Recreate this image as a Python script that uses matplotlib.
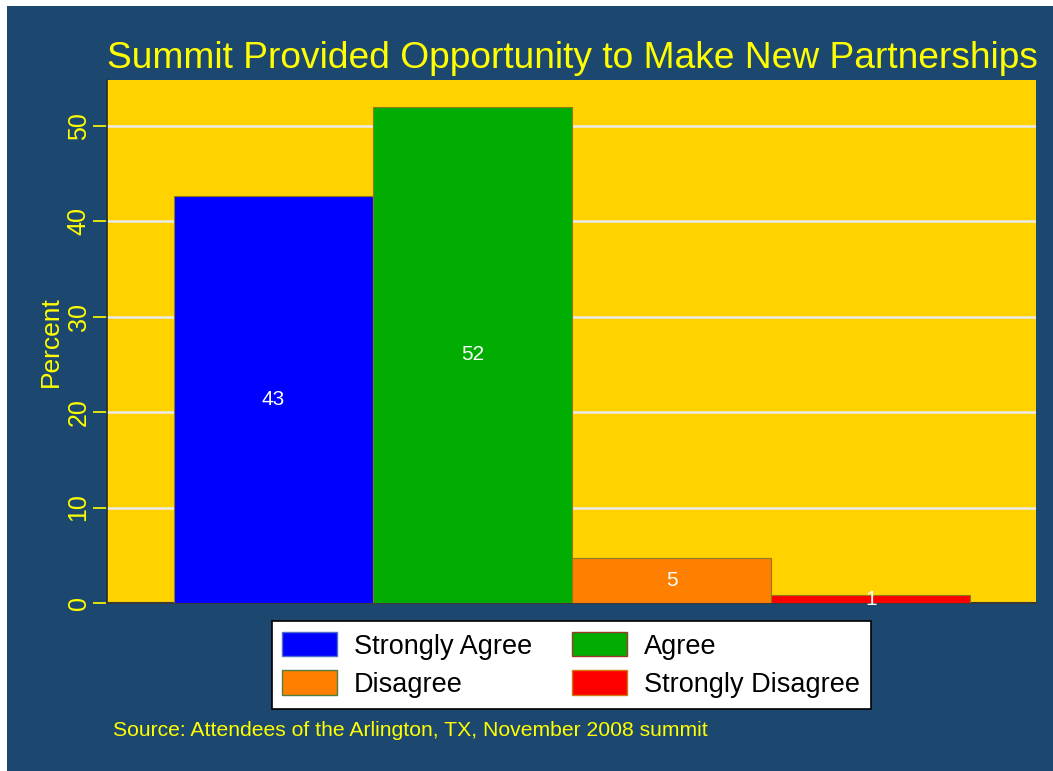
import matplotlib
matplotlib.use("Agg")
import matplotlib.pyplot as plt
from matplotlib.patches import Rectangle, Patch

plt.rcParams["font.family"] = ["Liberation Sans", "DejaVu Sans"]

# Survey responses (percent of attendees)
categories = ["Strongly Agree", "Agree", "Disagree", "Strongly Disagree"]
percents = [42.6, 52.0, 4.7, 0.8]
bar_colors = ["#0000ff", "#00ad00", "#ff8000", "#ff0000"]
legend_edges = ["#4f6fd0", "#9a3a2a", "#4f7f3f", "#d07a10"]
y_ticks = [0, 10, 20, 30, 40, 50]

title = "Summit Provided Opportunity to Make New Partnerships"
source_note = "Source: Attendees of the Arlington, TX, November 2008 summit"

W, H = 1053, 771
navy = "#1c4870"
gold = "#ffd200"
yellow = "#ffff00"

fig = plt.figure(figsize=(W / 100, H / 100), dpi=100, facecolor="white")
# navy panel (thin white margin on the top and left)
fig.patches.append(Rectangle((7 / W, 0), 1 - 7 / W, (H - 6) / H,
                             transform=fig.transFigure, facecolor=navy,
                             edgecolor="none", zorder=-5))

ax = fig.add_axes([107 / W, (H - 603) / H, (1036 - 107) / W, (603 - 80) / H])
ax.set_zorder(2)
ax.set_facecolor(gold)

x = [1, 2, 3, 4]
bars = ax.bar(x, percents, width=1.0, color=bar_colors,
              edgecolor="#8f7a1a", linewidth=0.8, zorder=3)
for xi, v in zip(x, percents):
    ax.text(xi, v / 2, f"{v:.0f}", color="white", ha="center", va="center",
            fontsize=15, zorder=4)

ax.set_xlim(0.163, 4.83)
ax.set_ylim(0, 54.8)
ax.set_xticks([])
ax.set_yticks(y_ticks)
ax.set_yticklabels([str(t) for t in y_ticks], rotation=90, va="center",
                   color=yellow, fontsize=18)
ax.tick_params(axis="y", colors=yellow, length=10, width=1.2, pad=1.8,
               labelcolor=yellow)
for t in y_ticks[1:]:
    ax.axhline(t, color="#ececec", linewidth=1.8, zorder=1)

for side in ["top", "right"]:
    ax.spines[side].set_visible(False)
ax.spines["left"].set_color("#2a2a2a")
ax.spines["left"].set_linewidth(1.2)
ax.spines["bottom"].set_color("#3a3a3a")
ax.spines["bottom"].set_linewidth(1.5)

ax.set_ylabel("Percent", color=yellow, fontsize=19, labelpad=3)

fig.text(572 / W, 1 - 58 / H, title, color=yellow, fontsize=26.7,
         ha="center", va="center")
fig.text(113 / W, 1 - 731 / H, source_note, color=yellow, fontsize=15.2,
         ha="left", va="center")

# legend laid out row-wise: Strongly Agree, Agree / Disagree, Strongly Disagree
order = [0, 2, 1, 3]
handles = [Patch(facecolor=bar_colors[i], edgecolor=legend_edges[i],
                 linewidth=1.0, label=categories[i]) for i in order]
leg = fig.legend(handles=handles, ncol=2, loc="center",
                 bbox_to_anchor=(571 / W, 1 - 665 / H), fontsize=19.5,
                 frameon=True, fancybox=False, edgecolor="black",
                 facecolor="white", framealpha=1, handlelength=2.0,
                 handleheight=1.0, handletextpad=0.63, columnspacing=1.5,
                 labelspacing=0.4, borderpad=0.4)
leg.get_frame().set_linewidth(1.2)

fig.savefig("out.png", dpi=100, facecolor=fig.get_facecolor())
